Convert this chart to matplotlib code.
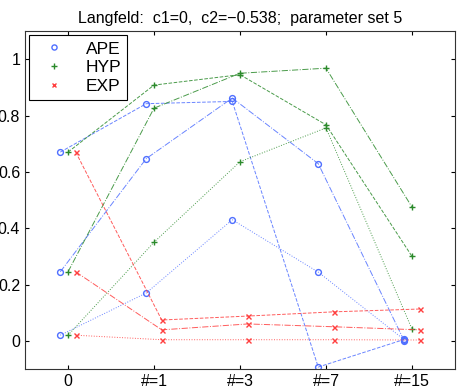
import numpy as np
import matplotlib.pyplot as plt

plt.rcParams['font.family'] = ['Liberation Sans', 'DejaVu Sans']

labels = ["0", "#=1", "#=3", "#=7", "#=15"]

# APE series (dashed, dash-dot, dotted)
ape_dashed = [0.67, 0.842, 0.85, -0.093, 0.005]
ape_dashdot = [0.245, 0.647, 0.862, 0.629, 0.0]
ape_dotted = [0.02, 0.17, 0.43, 0.244, 0.004]

# HYP series
hyp_dashed = [0.67, 0.908, 0.945, 0.767, 0.30]
hyp_dashdot = [0.245, 0.826, 0.95, 0.968, 0.475]
hyp_dotted = [0.02, 0.35, 0.636, 0.756, 0.042]

# EXP series
exp_dashed = [0.67, 0.074, 0.088, 0.103, 0.113]
exp_dashdot = [0.245, 0.039, 0.06, 0.05, 0.039]
exp_dotted = [0.02, 0.004, 0.004, 0.004, 0.003]

blue = '#4f6fff'
green = '#2b8a2b'
red = '#ff3f3f'

fig = plt.figure(figsize=(4.58, 3.9), dpi=100)
ax = fig.add_axes([0.0546, 0.0538, 0.9388, 0.8667])

x = np.arange(len(labels))
styles = ['--', '-.', ':']
groups = [
    ("APE", blue, 'o', -0.09, [ape_dashed, ape_dashdot, ape_dotted]),
    ("HYP", green, '+', 0.0, [hyp_dashed, hyp_dashdot, hyp_dotted]),
    ("EXP", red, 'x', 0.09, [exp_dashed, exp_dashdot, exp_dotted]),
]

handles = []
for name, col, mk, off, series in groups:
    ms = 4.2 if mk != 'x' else 3.6
    for ls, vals in zip(styles, series):
        ax.plot(x + off, vals, color=col, linestyle=ls, linewidth=0.7, alpha=0.85)
        ax.plot(x + off, vals, color=col, linestyle='none', marker=mk,
                markersize=ms, markerfacecolor='none', markeredgewidth=1)
    h, = ax.plot([], [], color=col, linestyle='none', marker=mk,
                 markersize=ms - 0.5, markerfacecolor='none', markeredgewidth=1)
    handles.append(h)

ax.set_xlim(-0.5, 4.5)
ax.set_ylim(-0.1, 1.1)
ax.set_xticks(x)
ax.set_xticklabels(labels)
ax.set_yticks([0, 0.2, 0.4, 0.6, 0.8, 1])
ax.set_yticklabels(["0", "0.2", "0.4", "0.6", "0.8", "1"])
ax.tick_params(direction='in', top=True, right=True, labelsize=11.5, length=3)
for sp in ax.spines.values():
    sp.set_color('#333333')
ax.set_title("Langfeld:  c1=0,  c2=\u22120.538;  parameter set 5", fontsize=11.5)

leg = ax.legend(handles, ["APE", "HYP", "EXP"], loc='upper left', fontsize=12.5,
                fancybox=False, framealpha=1, edgecolor='black',
                handlelength=2.1, handletextpad=0.8, borderpad=0.35,
                borderaxespad=0.25, labelspacing=0.2)
leg.get_frame().set_linewidth(0.8)

fig.savefig("out.png", dpi=100)
